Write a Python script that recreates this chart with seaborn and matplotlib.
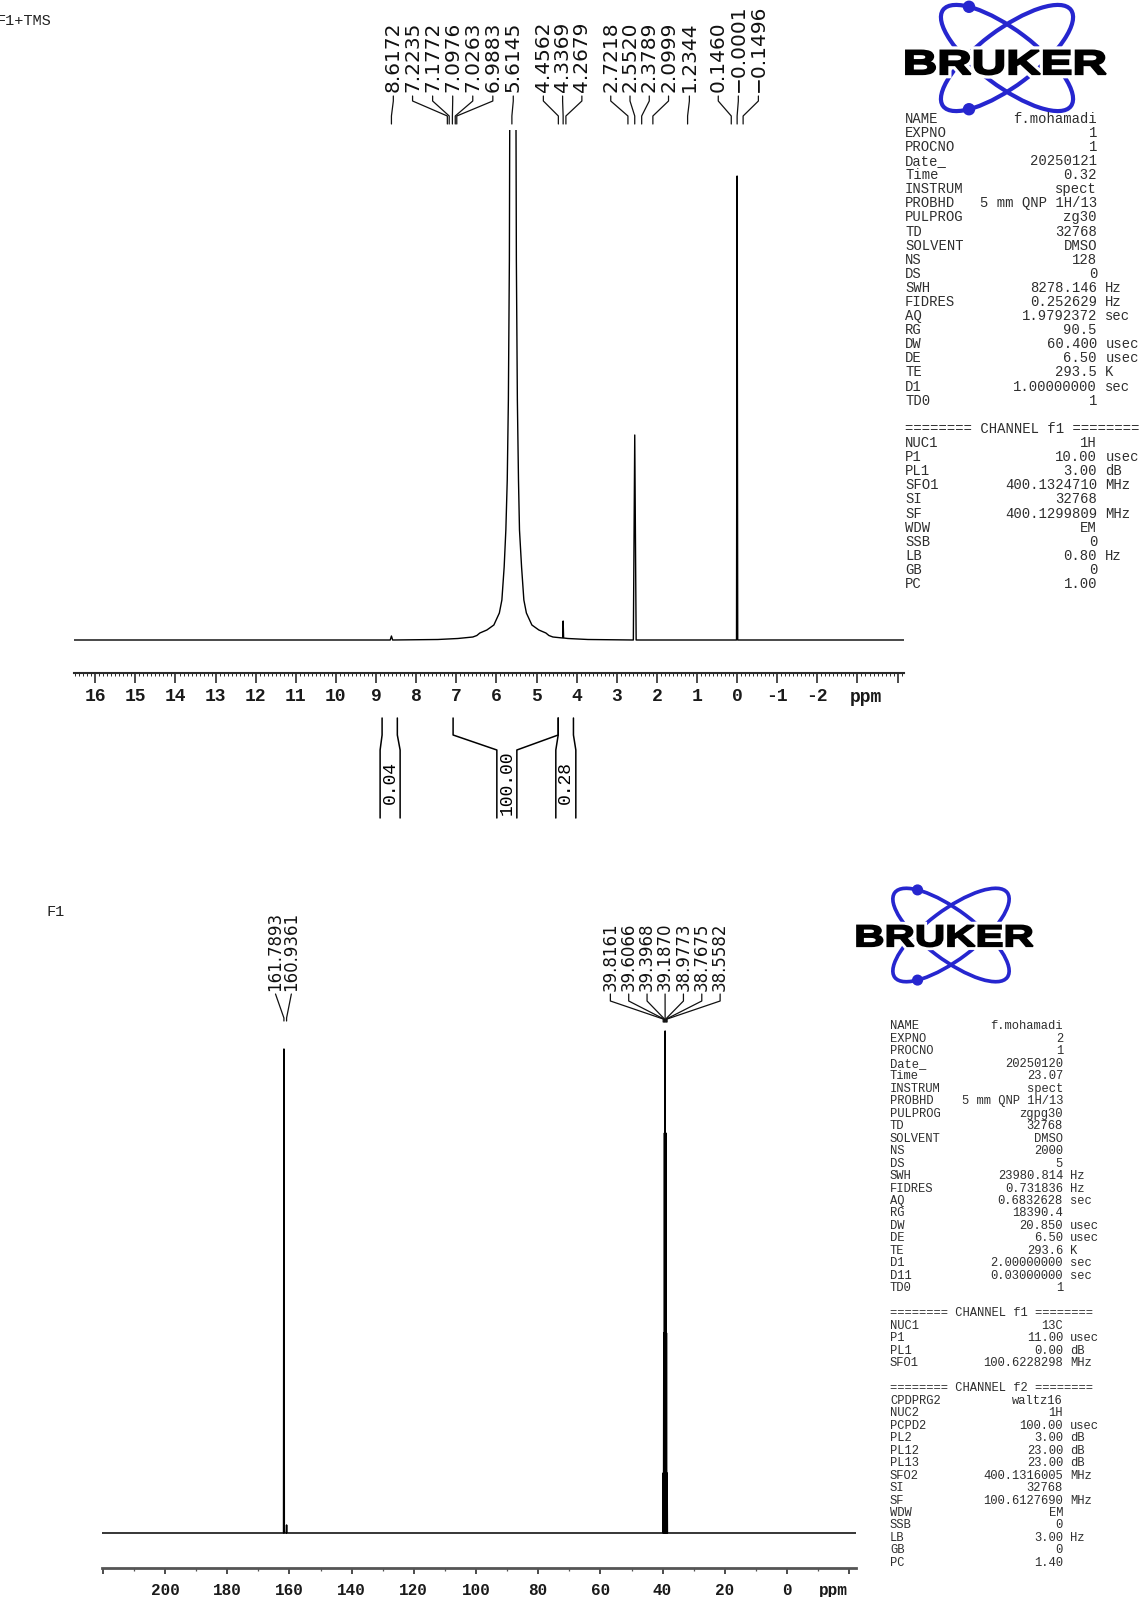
import numpy as np
import pandas as pd
import seaborn as sns
import matplotlib.pyplot as plt
import matplotlib.transforms as mtransforms
from matplotlib.patches import Ellipse, Circle, PathPatch
from matplotlib.textpath import TextPath
from matplotlib.font_manager import FontProperties
from matplotlib.ticker import MultipleLocator

W, H = 1142, 1597

# ---------------- 1H spectrum ----------------
h_xlim = (16.53, -4.16)
h_peak_ppm = [8.6172, 4.3369, 2.5520, 0.0]
h_peak_height = [4, 17, 205, 464]
h_peak_base = [0, 2, 0, 0]
h_peak_halfwidth = [0.03, 0.012, 0.035, 0.015]

# broad exchange peak profile (top goes off scale)
water_ppm = [7.460, 6.962, 6.588, 6.488, 6.413, 6.238, 6.064, 5.927, 5.864, 5.807,
             5.765, 5.730, 5.702, 5.677, 5.665, 5.590,
             5.515, 5.503, 5.478, 5.450, 5.425, 5.373, 5.316, 5.253, 5.116,
             4.942, 4.767, 4.692, 4.592, 4.218, 3.720]
water_int = [0.5, 1.5, 3, 4.5, 7, 10, 15, 27, 40, 73,
             110, 160, 240, 380, 560, 3000,
             560, 380, 240, 160, 110, 73, 40, 27, 15,
             10, 7, 4.5, 3, 1.5, 0.5]

h_label_text = ["8.6172", "7.2235", "7.1772", "7.0976", "7.0263", "6.9883", "5.6145",
                "4.4562", "4.3369", "4.2679", "2.7218", "2.5520", "2.3789", "2.0999",
                "1.2344", "0.1460", "-0.0001", "-0.1496"]
h_label_pos = [8.57, 8.09, 7.59, 7.09, 6.59, 6.09, 5.58, 4.83, 4.35, 3.87,
               3.15, 2.67, 2.19, 1.71, 1.19, 0.47, -0.03, -0.53]

h_int_from = [8.85, 7.08, 4.46]
h_int_to = [8.47, 4.46, 4.08]
h_int_pos = [8.65, 5.74, 4.27]
h_int_value = ["0.04", "100.00", "0.28"]

# ---------------- 13C spectrum ----------------
c_xlim = (220.3, -22.2)
c_peak_ppm = [161.7893, 160.9361, 39.8161, 39.6066, 39.3968, 39.1870, 38.9773, 38.7675, 38.5582]
c_peak_height = [484, 8, 60, 200, 400, 502, 400, 200, 60]
c_peak_halfwidth = [0.12, 0.12, 0.1, 0.1, 0.1, 0.1, 0.1, 0.1, 0.1]

c_label_text = ["161.7893", "160.9361", "39.8161", "39.6066", "39.3968", "39.1870",
                "38.9773", "38.7675", "38.5582"]
c_label_pos = [164.5, 159.4, 56.8, 50.9, 45.0, 39.2, 33.3, 27.4, 21.5]

# ---------------- acquisition parameters ----------------
h_params = [
    ("NAME", "f.mohamadi", ""), ("EXPNO", "1", ""), ("PROCNO", "1", ""),
    ("Date_", "20250121", ""), ("Time", "0.32", ""), ("INSTRUM", "spect", ""),
    ("PROBHD", "5 mm QNP 1H/13", ""), ("PULPROG", "zg30", ""), ("TD", "32768", ""),
    ("SOLVENT", "DMSO", ""), ("NS", "128", ""), ("DS", "0", ""),
    ("SWH", "8278.146", "Hz"), ("FIDRES", "0.252629", "Hz"), ("AQ", "1.9792372", "sec"),
    ("RG", "90.5", ""), ("DW", "60.400", "usec"), ("DE", "6.50", "usec"),
    ("TE", "293.5", "K"), ("D1", "1.00000000", "sec"), ("TD0", "1", ""),
    None, "======== CHANNEL f1 ========",
    ("NUC1", "1H", ""), ("P1", "10.00", "usec"), ("PL1", "3.00", "dB"),
    ("SFO1", "400.1324710", "MHz"), ("SI", "32768", ""), ("SF", "400.1299809", "MHz"),
    ("WDW", "EM", ""), ("SSB", "0", ""), ("LB", "0.80", "Hz"), ("GB", "0", ""),
    ("PC", "1.00", ""),
]
c_params = [
    ("NAME", "f.mohamadi", ""), ("EXPNO", "2", ""), ("PROCNO", "1", ""),
    ("Date_", "20250120", ""), ("Time", "23.07", ""), ("INSTRUM", "spect", ""),
    ("PROBHD", "5 mm QNP 1H/13", ""), ("PULPROG", "zgpg30", ""), ("TD", "32768", ""),
    ("SOLVENT", "DMSO", ""), ("NS", "2000", ""), ("DS", "5", ""),
    ("SWH", "23980.814", "Hz"), ("FIDRES", "0.731836", "Hz"), ("AQ", "0.6832628", "sec"),
    ("RG", "18390.4", ""), ("DW", "20.850", "usec"), ("DE", "6.50", "usec"),
    ("TE", "293.6", "K"), ("D1", "2.00000000", "sec"), ("D11", "0.03000000", "sec"),
    ("TD0", "1", ""),
    None, "======== CHANNEL f1 ========",
    ("NUC1", "13C", ""), ("P1", "11.00", "usec"), ("PL1", "0.00", "dB"),
    ("SFO1", "100.6228298", "MHz"),
    None, "======== CHANNEL f2 ========",
    ("CPDPRG2", "waltz16", ""), ("NUC2", "1H", ""), ("PCPD2", "100.00", "usec"),
    ("PL2", "3.00", "dB"), ("PL12", "23.00", "dB"), ("PL13", "23.00", "dB"),
    ("SFO2", "400.1316005", "MHz"), ("SI", "32768", ""), ("SF", "100.6127690", "MHz"),
    ("WDW", "EM", ""), ("SSB", "0", ""), ("LB", "3.00", "Hz"), ("GB", "0", ""),
    ("PC", "1.40", ""),
]

sns.set_style("white")
plt.rcParams['font.family'] = ['DejaVu Sans']
MONO = 'Liberation Mono'
BLUE = '#2626cf'


def spectrum_frame(xlim, ppm, height, base, hw, extra_ppm=(), extra_int=()):
    pts = [(xlim[0], 0.0), (xlim[1], 0.0)] + list(zip(extra_ppm, extra_int))
    for p, h, b, w in zip(ppm, height, base, hw):
        pts += [(p + w, b), (p, b + h), (p - w, b)]
    df = pd.DataFrame(pts, columns=['ppm', 'intensity'])
    return df.sort_values('ppm', ascending=False).reset_index(drop=True)


fig = plt.figure(figsize=(W / 100, H / 100), dpi=100)
ax1 = fig.add_axes([74 / W, 1 - 650 / H, (904 - 74) / W, 520 / H])
ax2 = fig.add_axes([102 / W, 1 - 1540 / H, (856 - 102) / W, 540 / H])
ov = fig.add_axes([0, 0, 1, 1])
ov.set_xlim(0, W)
ov.set_ylim(H, 0)
ov.axis('off')

# ---- spectra ----
h_df = spectrum_frame(h_xlim, h_peak_ppm, h_peak_height, h_peak_base, h_peak_halfwidth,
                      water_ppm, water_int)
sns.lineplot(data=h_df, x='ppm', y='intensity', sort=False, estimator=None,
             color='black', lw=1.0, ax=ax1)
c_df = spectrum_frame(c_xlim, c_peak_ppm, c_peak_height, [0] * len(c_peak_ppm), c_peak_halfwidth)
sns.lineplot(data=c_df, x='ppm', y='intensity', sort=False, estimator=None,
             color='black', lw=1.1, ax=ax2)

ax1.set_xlim(h_xlim)
ax1.set_ylim(-10, 510)
ax2.set_xlim(c_xlim)
ax2.set_ylim(-7, 533)

for ax, out in ((ax1, 23), (ax2, 28)):
    ax.set_xlabel('')
    ax.set_ylabel('')
    ax.set_yticks([])
    ax.patch.set_alpha(0)
    sns.despine(ax=ax, left=True, top=True, right=True)
    ax.spines['bottom'].set_position(('outward', out * 0.72))
    ax.tick_params(axis='x', which='both', bottom=True, direction='out')

# 1H ruler
ax1.spines['bottom'].set_color('#2a2a2a')
ax1.spines['bottom'].set_linewidth(1.5)
h_ticks = list(range(-4, 17))
ax1.set_xticks(h_ticks, labels=[str(v) if -2 <= v <= 16 else '' for v in h_ticks])
ax1.xaxis.set_minor_locator(MultipleLocator(0.1))
ax1.tick_params(axis='x', which='major', length=7.2, width=1.1, pad=3.5,
                labelsize=13, colors='#1a1a1a')
ax1.tick_params(axis='x', which='minor', length=2.0, width=0.7, colors='#2a2a2a')
for lbl in ax1.get_xticklabels():
    lbl.set_fontfamily(MONO)
    lbl.set_fontweight('bold')

# 13C ruler
ax2.spines['bottom'].set_color('#555555')
ax2.spines['bottom'].set_linewidth(2.0)
c_ticks = list(range(-20, 221, 20))
ax2.set_xticks(c_ticks, labels=[str(v) if 0 <= v <= 200 else '' for v in c_ticks])
ax2.xaxis.set_minor_locator(MultipleLocator(10))
ax2.tick_params(axis='x', which='major', length=4.5, width=1.1, pad=6,
                labelsize=11.5, colors='#1a1a1a')
ax2.tick_params(axis='x', which='minor', length=2.2, width=0.9, colors='#555555')
for lbl in ax2.get_xticklabels():
    lbl.set_fontfamily(MONO)
    lbl.set_fontweight('bold')

tr1 = mtransforms.blended_transform_factory(ax1.transData, ov.transData)
tr2 = mtransforms.blended_transform_factory(ax2.transData, ov.transData)
ax1.text(-3.2, 697, 'ppm', transform=tr1, ha='center', va='center',
         family=MONO, fontweight='bold', fontsize=13, color='#1a1a1a')
ax2.text(-14.8, 1590, 'ppm', transform=tr2, ha='center', va='center',
         family=MONO, fontweight='bold', fontsize=11.5, color='#1a1a1a')


# ---- peak labels ----
def peak_labels(ax, tr, texts, pos, ys, size):
    y_text, y0, y1, y2, y3 = ys
    for t, lx in zip(texts, pos):
        px = float(t)
        ax.text(lx, y_text, t.replace('-', '\u2212'), transform=tr, rotation=90,
                ha='center', va='bottom', fontsize=size, color='#111111')
        ax.plot([lx, lx, px, px], [y0, y1, y2, y3], transform=tr, clip_on=False,
                color='#111111', lw=0.9)


peak_labels(ax1, tr1, h_label_text, h_label_pos, (92, 96, 101, 116, 124), 14.5)
peak_labels(ax2, tr2, c_label_text[:2], c_label_pos[:2], (991, 994, 994, 1018, 1021), 12)
peak_labels(ax2, tr2, c_label_text[2:], c_label_pos[2:], (991, 994, 1001, 1019, 1022), 12)

# ---- integrals ----
box = 10 / 40.1
for a, b, c, v in zip(h_int_from, h_int_to, h_int_pos, h_int_value):
    ax1.plot([a, a, c + box, c + box], [718, 735, 750, 818], transform=tr1,
             clip_on=False, color='black', lw=1.1)
    ax1.plot([b, b, c - box, c - box], [718, 735, 750, 818], transform=tr1,
             clip_on=False, color='black', lw=1.1)
    ax1.text(c, 783, v, transform=tr1, rotation=90, ha='center', va='center',
             family=MONO, fontsize=13, color='black')


# ---- parameter tables ----
def draw_table(rows, x_name, x_val, y0, dy, size):
    cw = 0.6 * size / 72 * 100
    for i, row in enumerate(rows):
        y = y0 + i * dy
        if row is None:
            continue
        kw = dict(family=MONO, fontsize=size, color='#2e2e2e', va='baseline')
        if isinstance(row, str):
            ov.text(x_name, y, row, ha='left', **kw)
            continue
        name, val, unit = row
        ov.text(x_name, y, name, ha='left', **kw)
        ov.text(x_val, y, val, ha='right', **kw)
        if unit:
            ov.text(x_val + cw, y, unit, ha='left', **kw)


draw_table(h_params, 905, 1097, 122.7, 14.1, 10)
draw_table(c_params, 890, 1063, 1029.3, 12.48, 8.7)


# ---- Bruker logos ----
def draw_logo(cx, cy, tx, ty, s):
    a, b, th = 80 * s, 28 * s, 37
    for ang, t in ((th, np.pi + 0.7), (-th, np.pi - 0.7)):
        ov.add_patch(Ellipse((cx, cy), 2 * a, 2 * b, angle=ang, fill=False,
                             ec=BLUE, lw=3.0 * s))
        r = np.deg2rad(ang)
        ex, ey = a * np.cos(t), b * np.sin(t)
        ov.add_patch(Circle((cx + ex * np.cos(r) - ey * np.sin(r),
                             cy + ex * np.sin(r) + ey * np.cos(r)), 5.5 * s, color=BLUE))
    tp = TextPath((0, 0), 'BRUKER', size=10,
                  prop=FontProperties(family='Liberation Sans', weight='bold'))
    bb = tp.get_extents()
    tr = (mtransforms.Affine2D()
          .translate(-(bb.x0 + bb.x1) / 2, -(bb.y0 + bb.y1) / 2)
          .scale(200 * s / bb.width, -24 * s / bb.height)
          .translate(tx, ty))
    path = tr.transform_path(tp)
    ov.add_patch(PathPatch(path, fc='white', ec='white', lw=6 * s))
    ov.add_patch(PathPatch(path, fc='black', ec='black', lw=1.4 * s))


draw_logo(1007, 58, 1006, 62.5, 1.0)
draw_logo(951, 935, 945, 936, 0.88)

ov.text(-4, 25, 'F1+TMS', family=MONO, fontsize=11, color='#222222', va='baseline')
ov.text(46, 916, 'F1', family=MONO, fontsize=11, color='#222222', va='baseline')

fig.savefig('out.png', dpi=100)
